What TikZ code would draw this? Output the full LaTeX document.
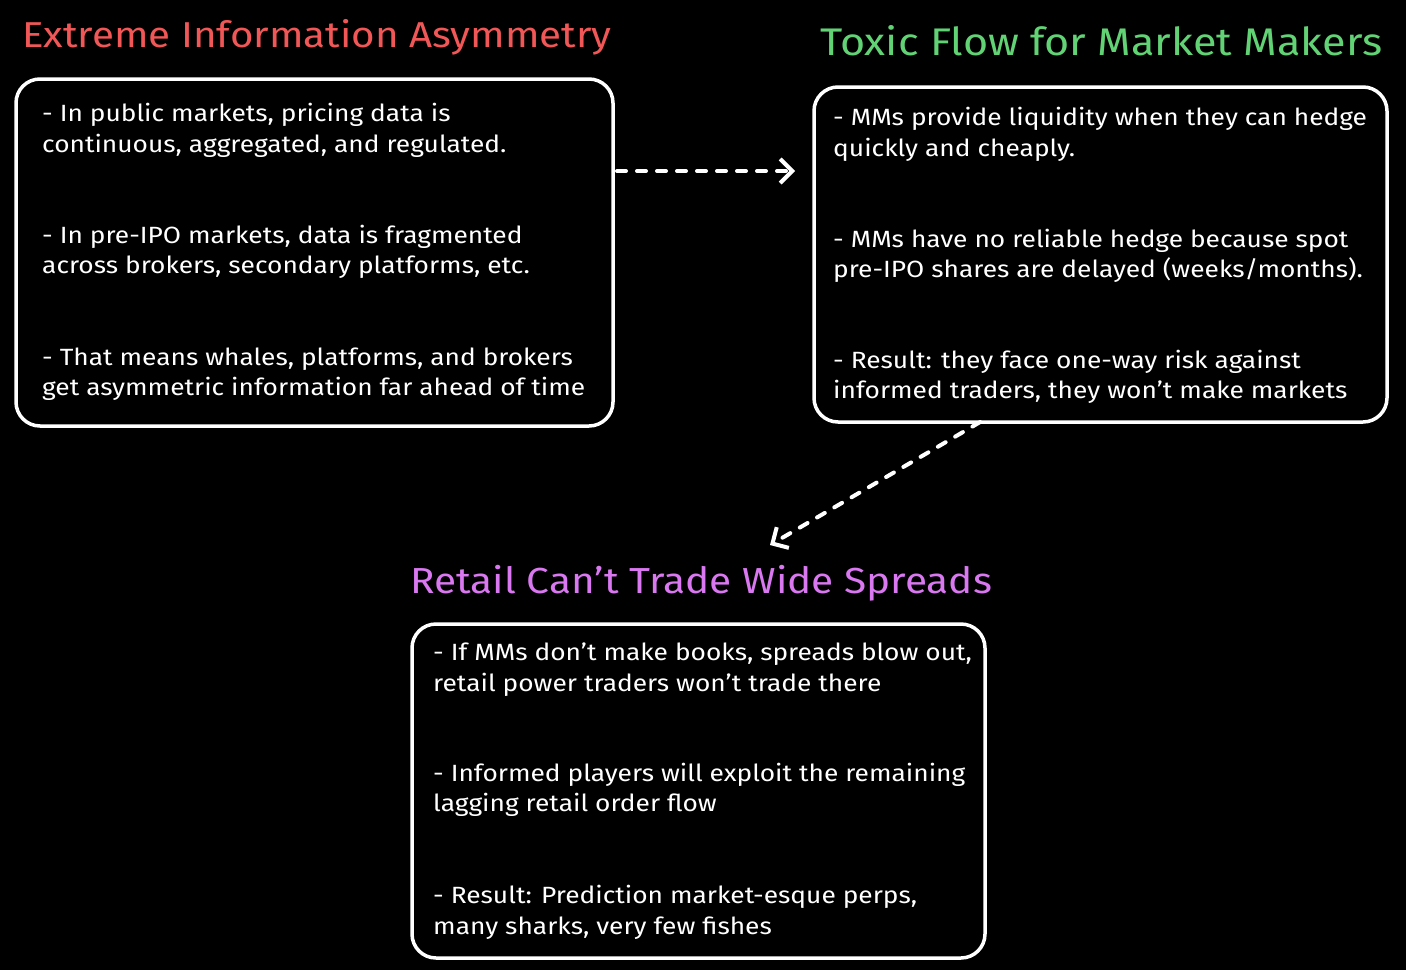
\documentclass[tikz,border=0pt]{standalone}
\usepackage{fontspec}
\setmainfont{Fira Sans}[FakeStretch=1.12]
\usetikzlibrary{arrows.meta,calc}
\definecolor{cred}{HTML}{F25757}
\definecolor{cgreen}{HTML}{62D375}
\definecolor{cpurple}{HTML}{D978F0}
\begin{document}
\begin{tikzpicture}[x=1pt,y=-1pt,
  box/.style={draw=white, line width=3.5pt, rounded corners=24pt, rectangle, inner sep=0pt, outer sep=0pt},
  txt/.style={text=white, font=\fontsize{23.5}{28}\selectfont, anchor=base west, inner sep=0pt},
  ttl/.style={anchor=base west, inner sep=0pt},
  flow/.style={white, line width=4pt, dash pattern=on 9pt off 11pt, line cap=round, -{Straight Barb[length=12pt,width=24pt,line width=4pt]}}]
\fill[black] (0,0) rectangle (1406,970);
\useasboundingbox (0,0) rectangle (1406,970);
% titles
\node[ttl, text=cred, font=\fontsize{36}{44}\selectfont] (ti1) at (22,47) {Extreme Information Asymmetry};
\node[ttl, text=cgreen, font=\fontsize{38.5}{44}\selectfont] (ti2) at (820,55) {Toxic Flow for Market Makers};
\node[ttl, text=cpurple, font=\fontsize{36.2}{44}\selectfont] (ti3) at (410,593) {Retail Can't Trade Wide Spreads};
% boxes
\node[box, minimum width=597pt, minimum height=347pt] (b1) at (314.5,252.5) {};
\node[box, minimum width=573pt, minimum height=335pt] (b2) at (1100.5,254.5) {};
\node[box, minimum width=573pt, minimum height=334pt] (b3) at (698.5,791) {};
% box 1 text
\node[txt] (l11) at (42,121) {- In public markets, pricing data is};
\node[txt] (l12) at (42,152) {continuous, aggregated, and regulated.};
\node[txt] (l13) at (42,243) {- In pre-IPO markets, data is fragmented};
\node[txt] (l14) at (42,273) {across brokers, secondary platforms, etc.};
\node[txt] (l15) at (42,365) {- That means whales, platforms, and brokers};
\node[txt] (l16) at (42,395) {get asymmetric information far ahead of time};
% box 2 text
\node[txt] (l21) at (833,125) {- MMs provide liquidity when they can hedge};
\node[txt] (l22) at (833,156) {quickly and cheaply.};
\node[txt] (l23) at (833,247) {- MMs have no reliable hedge because spot};
\node[txt] (l24) at (833,277) {pre-IPO shares are delayed (weeks/months).};
\node[txt] (l25) at (833,368) {- Result: they face one-way risk against};
\node[txt] (l26) at (833,398) {informed traders, they won't make markets};
% box 3 text
\node[txt] (l31) at (433,660) {- If MMs don't make books, spreads blow out,};
\node[txt] (l32) at (433,691) {retail power traders won't trade there};
\node[txt] (l33) at (433,781) {- Informed players will exploit the remaining};
\node[txt] (l34) at (433,811) {lagging retail order flow};
\node[txt] (l35) at (433,903) {- Result: Prediction market-esque perps,};
\node[txt] (l36) at (433,934) {many sharks, very few fishes};
% connectors
\coordinate (e1) at (795,171);
\coordinate (e2) at (770,545);
\draw[flow] (b1.east |- e1) ++(4,0) -- (e1);
\draw[flow] ($(b2.south west)!0.29!(b2.south east)$) -- (e2);
\end{tikzpicture}
\end{document}
